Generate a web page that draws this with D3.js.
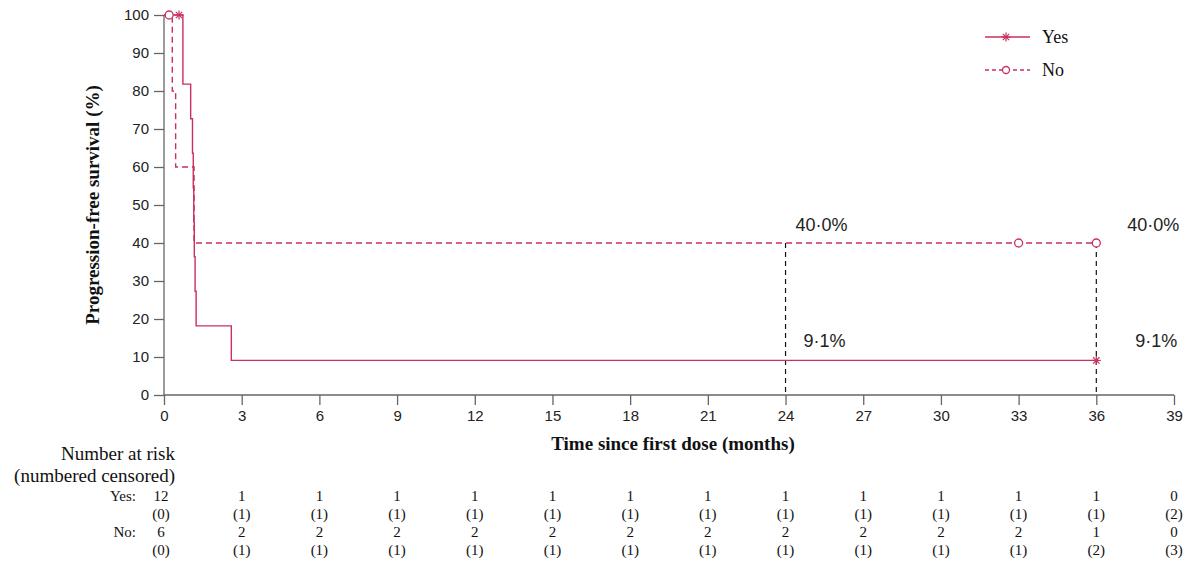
<!DOCTYPE html>
<html>
<head>
<meta charset="utf-8">
<script src="https://cdn.jsdelivr.net/npm/d3@7"></script>
<style>
  body { margin: 0; background: #fff; }
  svg { display: block; }
</style>
</head>
<body>
<svg id="chart" width="1186" height="565"></svg>
<script>
// Kaplan–Meier step points: [time (months), survival %]
const yesSteps = [[0, 100], [0.73, 81.8], [1.03, 72.7], [1.1, 63.6], [1.13, 54.5], [1.15, 45.5], [1.17, 36.4], [1.2, 27.3], [1.24, 18.2], [2.6, 9.1], [36, 9.1]];
const noSteps = [[0, 100], [0.32, 80], [0.45, 60], [1.16, 40], [36, 40]];
// Censoring marks: [time, survival %]
const yesCensored = [[0.58, 100], [36, 9.1]];
const noCensored = [[0.2, 100], [33.0, 40], [36, 40]];

const xTicks = [0, 3, 6, 9, 12, 15, 18, 21, 24, 27, 30, 33, 36, 39];
const yTicks = [0, 10, 20, 30, 40, 50, 60, 70, 80, 90, 100];

// Landmark estimates
const landmarks = [
  { t: 24, yes: 9.1, no: 40.0, yesLabel: "9·1%", noLabel: "40·0%" },
  { t: 36, yes: 9.1, no: 40.0, yesLabel: "9·1%", noLabel: "40·0%" }
];

// Number at risk table (censored counts in brackets)
const riskYes = [12, 1, 1, 1, 1, 1, 1, 1, 1, 1, 1, 1, 1, 0];
const censYes = [0, 1, 1, 1, 1, 1, 1, 1, 1, 1, 1, 1, 1, 2];
const riskNo = [6, 2, 2, 2, 2, 2, 2, 2, 2, 2, 2, 2, 1, 0];
const censNo = [0, 1, 1, 1, 1, 1, 1, 1, 1, 1, 1, 1, 2, 3];

const color = "#c9305c";
const sans = "'Liberation Sans', Arial, sans-serif";
const serif = "'Liberation Serif', 'Times New Roman', serif";

const svg = d3.select("#chart");
const x = d3.scaleLinear().domain([0, 39]).range([164, 1174]);
const y = d3.scaleLinear().domain([0, 100]).range([395, 15]);

// Axes
const xAxis = svg.append("g").attr("transform", `translate(0,${y(0)})`)
  .call(d3.axisBottom(x).tickValues(xTicks).tickSize(10).tickPadding(5));
const yAxis = svg.append("g").attr("transform", `translate(${x(0)},0)`)
  .call(d3.axisLeft(y).tickValues(yTicks).tickSize(10).tickPadding(5));
[xAxis, yAxis].forEach(g => {
  g.selectAll("path, line").attr("stroke", "#666").attr("stroke-width", 1.3);
  g.selectAll("text").attr("fill", "#222").style("font-family", sans).style("font-size", "15px");
});
xAxis.select(".domain").attr("d", `M${x(0)},0H${x(39)}`);
yAxis.select(".domain").attr("d", `M0,${y(100)}V${y(0)}`);

// Axis titles
svg.append("text")
  .attr("x", 673).attr("y", 450)
  .attr("text-anchor", "middle")
  .style("font-family", serif).style("font-weight", "bold").style("font-size", "19px")
  .attr("fill", "#111")
  .text("Time since first dose (months)");
svg.append("text")
  .attr("transform", `translate(99,205) rotate(-90)`)
  .attr("text-anchor", "middle")
  .style("font-family", serif).style("font-weight", "bold").style("font-size", "19px")
  .attr("fill", "#111")
  .text("Progression-free survival (%)");

// Landmark reference lines
landmarks.forEach(d => {
  svg.append("line")
    .attr("x1", x(d.t)).attr("x2", x(d.t))
    .attr("y1", y(d.no)).attr("y2", y(0))
    .attr("stroke", "#111").attr("stroke-width", 1.2)
    .attr("stroke-dasharray", "5,4");
});

// Survival curves
const step = d3.line().x(d => x(d[0])).y(d => y(d[1])).curve(d3.curveStepAfter);
svg.append("path").datum(noSteps).attr("d", step)
  .attr("fill", "none").attr("stroke", color).attr("stroke-width", 1.4)
  .attr("stroke-dasharray", "6,4");
svg.append("path").datum(yesSteps).attr("d", step)
  .attr("fill", "none").attr("stroke", color).attr("stroke-width", 1.4);

// Censor markers
function star(g, cx, cy, r) {
  for (let a = 0; a < 180; a += 45) {
    const rad = a * Math.PI / 180;
    g.append("line")
      .attr("x1", cx - r * Math.cos(rad)).attr("y1", cy - r * Math.sin(rad))
      .attr("x2", cx + r * Math.cos(rad)).attr("y2", cy + r * Math.sin(rad))
      .attr("stroke", color).attr("stroke-width", 1.2);
  }
}
const marks = svg.append("g");
yesCensored.forEach(d => star(marks, x(d[0]), y(d[1]), 4.5));
noCensored.forEach(d => {
  marks.append("circle").attr("cx", x(d[0])).attr("cy", y(d[1])).attr("r", 4)
    .attr("fill", "#fff").attr("stroke", color).attr("stroke-width", 1.3);
});

// Landmark labels
landmarks.forEach(d => {
  const dx = d.t === 36 ? 31 : 10;
  svg.append("text").attr("x", x(d.t) + dx).attr("y", y(d.no) - 12)
    .style("font-family", sans).style("font-size", "18px").attr("fill", "#222")
    .text(d.noLabel);
  svg.append("text").attr("x", x(d.t) + dx + 8).attr("y", y(d.yes) - 13)
    .style("font-family", sans).style("font-size", "18px").attr("fill", "#222")
    .text(d.yesLabel);
});

// Legend
const legend = [
  { label: "Yes", dash: null, marker: "star", yPos: 37 },
  { label: "No", dash: "4,3", marker: "circle", yPos: 70 }
];
legend.forEach(l => {
  svg.append("line").attr("x1", 985).attr("x2", 1030).attr("y1", l.yPos).attr("y2", l.yPos)
    .attr("stroke", color).attr("stroke-width", 1.3)
    .attr("stroke-dasharray", l.dash);
  if (l.marker === "star") star(svg, 1006, l.yPos, 4.5);
  else svg.append("circle").attr("cx", 1006).attr("cy", l.yPos).attr("r", 3.5)
    .attr("fill", "#fff").attr("stroke", color).attr("stroke-width", 1.3);
  svg.append("text").attr("x", 1042).attr("y", l.yPos + 6)
    .style("font-family", serif).style("font-size", "18px").attr("fill", "#111")
    .text(l.label);
});

// Number at risk table
const tbl = svg.append("g").style("font-family", serif).attr("fill", "#111");
tbl.append("text").attr("x", 175).attr("y", 460).attr("text-anchor", "end").style("font-size", "19px").text("Number at risk");
tbl.append("text").attr("x", 175).attr("y", 482).attr("text-anchor", "end").style("font-size", "19px").text("(numbered censored)");
tbl.append("text").attr("x", 136).attr("y", 501).attr("text-anchor", "end").style("font-size", "15px").text("Yes:");
tbl.append("text").attr("x", 136).attr("y", 537).attr("text-anchor", "end").style("font-size", "15px").text("No:");
const rows = [
  { vals: riskYes, yPos: 501, fmt: v => v },
  { vals: censYes, yPos: 519, fmt: v => `(${v})` },
  { vals: riskNo, yPos: 537, fmt: v => v },
  { vals: censNo, yPos: 555, fmt: v => `(${v})` }
];
rows.forEach(r => {
  tbl.selectAll(null).data(r.vals).join("text")
    .attr("x", (d, i) => x(xTicks[i]) + (i === 0 ? -3 : 0))
    .attr("y", r.yPos)
    .attr("text-anchor", "middle")
    .style("font-size", "15px")
    .text(r.fmt);
});
</script>
</body>
</html>
